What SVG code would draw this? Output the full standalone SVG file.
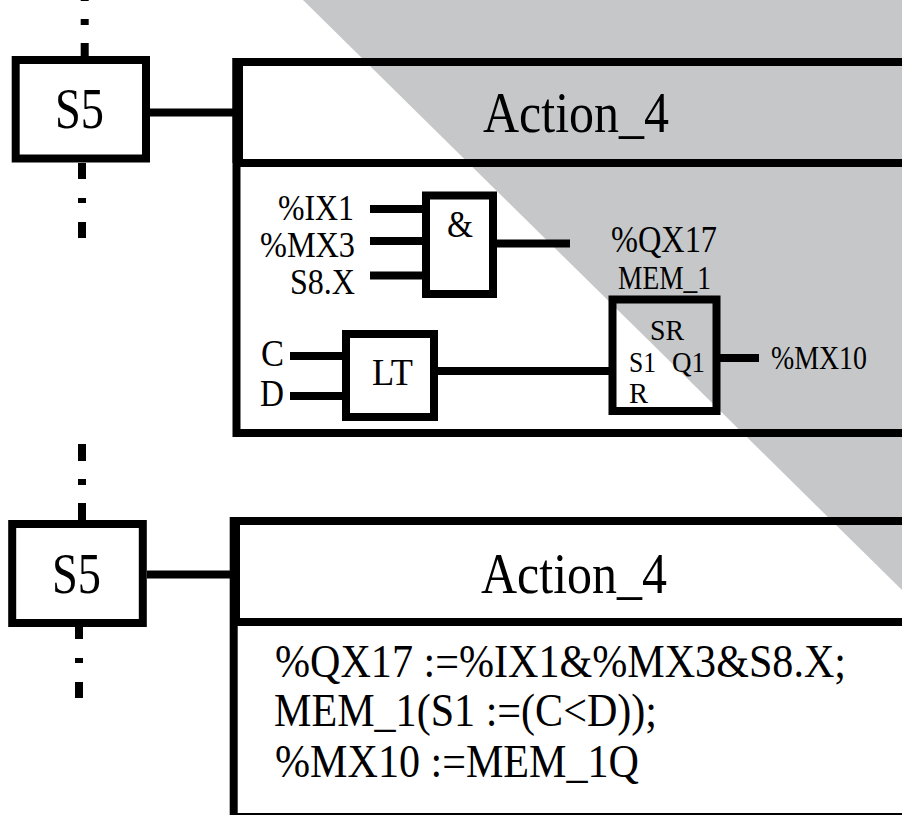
<svg xmlns="http://www.w3.org/2000/svg" width="902" height="815" viewBox="0 0 902 815">
<style>
text{font-family:"Liberation Serif","Times New Roman",serif;fill:#000}
.b{fill:none;stroke:#000;stroke-width:8}
.l{stroke:#000;stroke-width:8;fill:none}
.f{fill:#000}
.step{font-size:56px}
.title{font-size:58px}
.big{font-size:38px}
.in{font-size:36px}
.mid{font-size:33px}
.small{font-size:30px}
.code{font-size:46px}
</style>
<rect width="902" height="815" fill="#fff"/>
<polygon points="303,0 902,0 902,590" fill="#c6c7c9"/>
<g id="connectors">
<path class="l" d="M84.700 0V1M84.700 19V25M84.700 43V56M82 163V179M82 198V203M82 222V238M150 112.500H233"/>
<path class="l" d="M82 444V461M82 479V485M82 503V520M79 627V639M79 658V663M79 682V698M147 574.500H230"/>
<path class="l" d="M370 209H423M370 241H423M370 275.500H423M497 243.500H570M290 356H343M290 396H343M437 371H610M720 358H759"/>
</g>
<g id="step-top"><rect class="b" x="15.700" y="60" width="130.300" height="98.500"/><text class="step" x="55" y="128" textLength="49" lengthAdjust="spacingAndGlyphs">S5</text></g>
<g id="action-top">
<path class="l" d="M902 62H236.500V433H902M236.500 163H902"/>
<rect class="f" x="232.500" y="58" width="10.500" height="105"/>
<text class="title" x="483" y="132" textLength="186" lengthAdjust="spacingAndGlyphs">Action_4</text>
</g>
<g id="and-gate"><rect class="b" x="426" y="195.500" width="67" height="98.500"/><text class="big" x="447" y="237" textLength="26" lengthAdjust="spacingAndGlyphs">&amp;</text>
<text class="in" x="278" y="220" textLength="76" lengthAdjust="spacingAndGlyphs">%IX1</text><text class="in" x="260" y="257" textLength="95" lengthAdjust="spacingAndGlyphs">%MX3</text><text class="in" x="290" y="294" textLength="65" lengthAdjust="spacingAndGlyphs">S8.X</text>
<text class="big" x="611" y="252" textLength="106" lengthAdjust="spacingAndGlyphs">%QX17</text></g>
<g id="lt-gate"><rect class="b" x="346" y="334" width="88" height="83"/><text class="big" x="372" y="385" textLength="41" lengthAdjust="spacingAndGlyphs">LT</text>
<text class="big" x="261" y="366" textLength="23" lengthAdjust="spacingAndGlyphs">C</text><text class="big" x="260" y="406" textLength="24" lengthAdjust="spacingAndGlyphs">D</text></g>
<g id="sr-block"><rect class="b" x="612.500" y="299.500" width="104" height="111.500"/>
<text class="mid" x="618" y="289" textLength="93" lengthAdjust="spacingAndGlyphs">MEM_1</text>
<text class="small" x="650" y="340" textLength="34" lengthAdjust="spacingAndGlyphs">SR</text>
<text class="small" x="629" y="372" textLength="27" lengthAdjust="spacingAndGlyphs">S1</text><text class="small" x="672" y="372" textLength="33" lengthAdjust="spacingAndGlyphs">Q1</text><text class="small" x="629" y="403" textLength="19" lengthAdjust="spacingAndGlyphs">R</text>
<text class="mid" x="771" y="369" textLength="96" lengthAdjust="spacingAndGlyphs">%MX10</text></g>
<g id="step-bottom"><rect class="b" x="12.200" y="524" width="130.600" height="99"/><text class="step" x="52" y="593" textLength="49" lengthAdjust="spacingAndGlyphs">S5</text></g>
<g id="action-bottom">
<path class="l" d="M902 521H233.700V817H902M233.700 622H902"/>
<rect class="f" x="230" y="517" width="10" height="105"/>
<text class="title" x="481" y="593" textLength="186" lengthAdjust="spacingAndGlyphs">Action_4</text>
<text class="code" x="275" y="677" textLength="571" lengthAdjust="spacingAndGlyphs">%QX17 :=%IX1&amp;%MX3&amp;S8.X;</text>
<text class="code" x="274" y="726" textLength="383" lengthAdjust="spacingAndGlyphs">MEM_1(S1 :=(C&lt;D));</text>
<text class="code" x="275" y="777" textLength="364" lengthAdjust="spacingAndGlyphs">%MX10 :=MEM_1Q</text>
</g>
</svg>
